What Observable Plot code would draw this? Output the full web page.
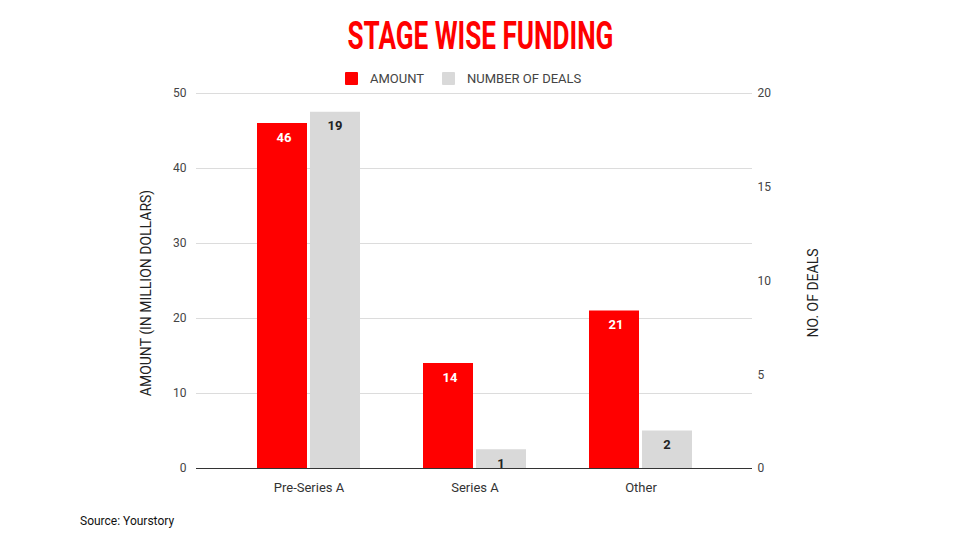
<!DOCTYPE html>
<html>
<head>
<meta charset="utf-8">
<script src="https://cdn.jsdelivr.net/npm/d3@7"></script>
<script src="https://cdn.jsdelivr.net/npm/@observablehq/plot@0.6"></script>
<style>
  html, body { margin: 0; padding: 0; background: #fff; }
  #wrap { position: relative; width: 960px; height: 540px; overflow: hidden; font-family: Roboto, "Liberation Sans", Arial, sans-serif; }
  #title { position: absolute; top: 13px; left: 0; width: 960px; text-align: center; }
  #title span { display: inline-block; color: #ff0000; font-family: Roboto, sans-serif; font-weight: bold; font-size: 39px; line-height: 46px;
                transform: scaleX(0.67); transform-origin: center; white-space: nowrap; }
  .sw { position: absolute; width: 13px; height: 13px; top: 72px; border-radius: 1px; }
  .lt { position: absolute; top: 70px; font-size: 13px; color: #444; line-height: 17px; }
  #chart { position: absolute; top: 84px; left: 0; }
  #source { position: absolute; left: 80px; top: 514px; font-size: 12px; color: #111; }
</style>
</head>
<body>
<div id="wrap">
  <div id="title"><span>STAGE WISE FUNDING</span></div>
  <div class="sw" style="left:345px;background:#ff0000"></div>
  <div class="lt" style="left:370px">AMOUNT</div>
  <div class="sw" style="left:442px;background:#d9d9d9"></div>
  <div class="lt" style="left:467px">NUMBER OF DEALS</div>
  <div id="chart"></div>
  <div id="source">Source: Yourstory</div>
</div>
<script>
const categories = ["Pre-Series A", "Series A", "Other"];
const amounts = [46, 14, 21];
const deals = [19, 1, 2];
const leftTicks = [0, 10, 20, 30, 40, 50];
const rightTicks = [0, 5, 10, 15, 20];
const ratio = 50 / 20; // left max / right max

const rows = categories.map((c, i) => ({category: c, amount: amounts[i], deals: deals[i]}));

const chart = Plot.plot({
  width: 960,
  height: 420,
  marginLeft: 196,
  marginRight: 208,
  marginTop: 9,
  marginBottom: 36,
  style: {fontFamily: "Roboto, 'Liberation Sans', Arial, sans-serif", background: "transparent"},
  x: {domain: categories, paddingInner: 0.381, paddingOuter: 0.36, label: null},
  y: {domain: [0, 50], label: null},
  marks: [
    Plot.ruleY(leftTicks.filter(d => d > 0), {stroke: "#dcdcdc", strokeWidth: 1}),
    Plot.barY(rows, {x: "category", y: "amount", fill: "#ff0000", insetRight: 53, insetLeft: 0}),
    Plot.barY(rows, {x: "category", y: d => d.deals * ratio, fill: "#d9d9d9", insetLeft: 53, insetRight: 0}),
    Plot.ruleY([0], {stroke: "#333", strokeWidth: 1}),
    Plot.text(rows, {x: "category", y: "amount", text: d => String(d.amount), dx: -25, dy: 14, fill: "#fff", fontWeight: "bold", fontSize: 13}),
    Plot.text(rows, {x: "category", y: d => d.deals * ratio, text: d => String(d.deals), dx: 26, dy: 14, fill: "#222", fontWeight: "bold", fontSize: 13}),
    Plot.axisY({anchor: "left", ticks: leftTicks, tickSize: 0, tickPadding: 10, label: null, fontSize: 12, color: "#444"}),
    Plot.axisY({anchor: "right", ticks: rightTicks.map(d => d * ratio), tickFormat: d => String(Math.round(d / ratio)), tickSize: 0, tickPadding: 5, label: null, fontSize: 12, color: "#444"}),
    Plot.axisX({tickSize: 0, tickPadding: 14, label: null, fontSize: 13, color: "#333"}),
    Plot.text(["AMOUNT (IN MILLION DOLLARS)"], {frameAnchor: "left", textAnchor: "middle", dx: -50, dy: 12, rotate: -90, fontSize: 14, fill: "#222"}),
    Plot.text(["NO. OF DEALS"], {frameAnchor: "right", textAnchor: "middle", dx: 61, dy: 12, rotate: -90, fontSize: 14, fill: "#222"})
  ]
});
chart.style.fontSize = "12px";
document.getElementById("chart").appendChild(chart);
</script>
</body>
</html>
